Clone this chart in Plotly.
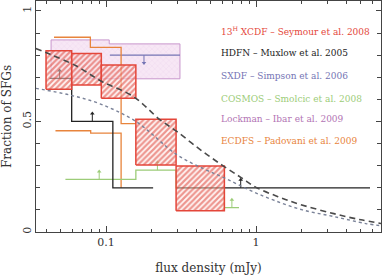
import numpy as np
import plotly.graph_objects as go

# ---------------- data ----------------
# 13H XCDF (Seymour et al. 2008) hatched boxes
xcdf_edges = [0.0398, 0.059, 0.093, 0.158, 0.293, 0.615]
xcdf_hi = [0.82, 0.808, 0.756, 0.51, 0.299]
xcdf_lo = [0.646, 0.665, 0.605, 0.303, 0.096]

# Lockman (Ibar et al. 2009) cross-hatched band
lockman_edges = [0.043, 0.105, 0.311]
lockman_hi = [0.869, 0.851]
lockman_lo = [0.693, 0.693]

# HDFN (Muxlow et al. 2005) step line (hv vertices)
hdfn_x = [0.042, 0.059, 0.111, 0.206]
hdfn_y = [0.695, 0.5, 0.2, 0.2]
hdfn_tail_x = [0.293, 5.75]
hdfn_tail_y = [0.2, 0.2]
hdfn_arrow_x = [0.049, 0.081, 0.79]
hdfn_arrow_y = [0.695, 0.5, 0.2]

# SXDF (Simpson et al. 2006) upper limit
sxdf_x = [0.106, 0.311]
sxdf_y = [0.80, 0.80]
sxdf_arrow_x = [0.179]
sxdf_arrow_y = [0.80]

# COSMOS (Smolcic et al. 2008) lower limits
cosmos_x = [0.0536, 0.158, 0.293, 0.615, 0.77]
cosmos_y = [0.238, 0.28, 0.2, 0.11, 0.11]
cosmos_arrow_x = [0.09, 0.22, 0.69]
cosmos_arrow_y = [0.238, 0.28, 0.11]

# ECDFS (Padovani et al. 2009) upper / lower step lines
ecdfs_up_x = [0.045, 0.0786, 0.126, 0.158]
ecdfs_up_y = [0.881, 0.835, 0.49, 0.49]
ecdfs_lo_x = [0.046, 0.079, 0.126]
ecdfs_lo_y = [0.458, 0.447, 0.2]

# model curves
dash_x = [0.034, 0.0423, 0.063, 0.0936, 0.152, 0.227, 0.296, 0.42, 0.6, 0.8, 1.0, 1.4, 1.96, 3.3, 5.0, 6.9]
dash_y = [0.83, 0.804, 0.752, 0.681, 0.613, 0.51, 0.455, 0.375, 0.30, 0.245, 0.202, 0.16, 0.125, 0.083, 0.055, 0.038]
dot_x = [0.034, 0.057, 0.091, 0.158, 0.296, 0.45, 0.615, 0.9, 1.3, 2.04, 3.3, 5.4, 6.9]
dot_y = [0.65, 0.62, 0.58, 0.50, 0.35, 0.285, 0.245, 0.19, 0.145, 0.10, 0.07, 0.038, 0.028]

legend_labels = ["13<sup>H</sup> XCDF \u2013 Seymour et al. 2008",
                 "HDFN \u2013 Muxlow et al. 2005",
                 "SXDF \u2013 Simpson et al. 2006",
                 "COSMOS \u2013 Smolcic et al. 2008",
                 "Lockman \u2013 Ibar et al. 2009",
                 "ECDFS \u2013 Padovani et al. 2009"]
legend_y = [0.91, 0.81, 0.706, 0.602, 0.511, 0.412]

RED = "#e4463a"
BLACK = "#222222"
SXDF_C = "#7474b4"
GREEN = "#9ccc78"
PURPLE = "#b274b4"
ORANGE = "#e8843c"
legend_colors = [RED, BLACK, SXDF_C, GREEN, PURPLE, ORANGE]

FONT = "DejaVu Serif"

fig = go.Figure()

# Lockman band
lx, ly = [], []
for i in range(len(lockman_hi)):
    lx += [lockman_edges[i], lockman_edges[i + 1]]
    ly += [lockman_hi[i], lockman_hi[i]]
for i in reversed(range(len(lockman_lo))):
    lx += [lockman_edges[i + 1], lockman_edges[i]]
    ly += [lockman_lo[i], lockman_lo[i]]
lx.append(lx[0]); ly.append(ly[0])
fig.add_trace(go.Scatter(x=lx, y=ly, mode="lines", fill="toself",
                         fillpattern=dict(shape="x", fgcolor="rgba(205,160,215,0.8)",
                                          bgcolor="rgba(245,225,242,0.8)", size=4, solidity=0.12),
                         line=dict(color="#c896cc", width=1), hoverinfo="skip"))


def step(x, y, color, width=1.3):
    fig.add_trace(go.Scatter(x=x, y=y, mode="lines", line=dict(color=color, width=width, shape="hv"),
                             hoverinfo="skip"))


def arrows(x, y, color, up=True, length=0.036):
    xs, ys, tx, ty = [], [], [], []
    for xi, yi in zip(x, y):
        yt = yi + length if up else yi - length
        xs += [xi, xi, None]
        ys += [yi, yt, None]
        tx.append(xi); ty.append(yt)
    fig.add_trace(go.Scatter(x=xs, y=ys, mode="lines", line=dict(color=color, width=1),
                             hoverinfo="skip"))
    fig.add_trace(go.Scatter(x=tx, y=ty, mode="markers",
                             marker=dict(symbol="triangle-up" if up else "triangle-down",
                                         size=4, color=color), hoverinfo="skip"))


step(sxdf_x, sxdf_y, SXDF_C)
arrows(sxdf_arrow_x, sxdf_arrow_y, SXDF_C, up=False)
step(ecdfs_up_x, ecdfs_up_y, ORANGE)
step(ecdfs_lo_x, ecdfs_lo_y, ORANGE)
step(cosmos_x, cosmos_y, GREEN)
arrows(cosmos_arrow_x, cosmos_arrow_y, GREEN)
step(hdfn_x, hdfn_y, BLACK)
step(hdfn_tail_x, hdfn_tail_y, BLACK)
arrows(hdfn_arrow_x, hdfn_arrow_y, BLACK)

# XCDF hatched boxes
for i in range(len(xcdf_hi)):
    x0, x1 = xcdf_edges[i], xcdf_edges[i + 1]
    fig.add_trace(go.Scatter(x=[x0, x1, x1, x0, x0],
                             y=[xcdf_lo[i], xcdf_lo[i], xcdf_hi[i], xcdf_hi[i], xcdf_lo[i]],
                             mode="lines", fill="toself",
                             fillpattern=dict(shape="/", fgcolor="#dc3428", bgcolor="rgba(255,240,238,0.5)",
                                              size=4, solidity=0.55),
                             line=dict(color=RED, width=1.5), hoverinfo="skip"))

# model curves
fig.add_trace(go.Scatter(x=dash_x, y=dash_y, mode="lines",
                         line=dict(color="#4a4a4a", width=1.6, dash="6px,4px", shape="spline"),
                         hoverinfo="skip"))
fig.add_trace(go.Scatter(x=dot_x, y=dot_y, mode="lines",
                         line=dict(color="#7a8298", width=1.4, dash="dot", shape="spline"),
                         hoverinfo="skip"))

# legend texts
for lab, col, yy in zip(legend_labels, legend_colors, legend_y):
    fig.add_annotation(x=np.log10(0.57), y=yy, xref="x", yref="y", text=lab, showarrow=False,
                       xanchor="left", yanchor="middle", font=dict(family=FONT, size=9, color=col))

fig.update_layout(
    width=382, height=276, showlegend=False,
    margin=dict(l=36, r=1, t=1, b=44, autoexpand=False),
    paper_bgcolor="white", plot_bgcolor="white",
    font=dict(family=FONT, color="#333"),
)
fig.update_xaxes(type="log", range=[-1.467, 0.833], automargin=False,
                 tickvals=[0.1, 1], ticktext=["0.1", "1"],
                 ticks="inside", ticklen=6, tickcolor="#444",
                 minor=dict(ticks="inside", ticklen=3, tickcolor="#444",
                            tickvals=[0.04, 0.05, 0.06, 0.07, 0.08, 0.09, 0.2, 0.3, 0.4, 0.5,
                                      0.6, 0.7, 0.8, 0.9, 2, 3, 4, 5, 6, 7]),
                 showline=True, linecolor="#444", linewidth=1, mirror="allticks",
                 showgrid=False, zeroline=False,
                 tickfont=dict(family=FONT, size=11, color="#333"),
                 title=dict(text="flux density (mJy)", font=dict(family=FONT, size=12, color="#333"),
                            standoff=15))
fig.update_yaxes(range=[0, 1.045], automargin=False, tickvals=[0, 0.5, 1], ticktext=["0", "0.5", "1"],
                 ticks="inside", ticklen=5, tickcolor="#444", tickangle=-90,
                 minor=dict(ticks="inside", ticklen=4, tickcolor="#444", dtick=0.1),
                 showline=True, linecolor="#444", linewidth=1, mirror="allticks",
                 showgrid=False, zeroline=False,
                 tickfont=dict(family=FONT, size=11, color="#333"),
                 title=dict(text="Fraction of SFGs", font=dict(family=FONT, size=12, color="#333"),
                            standoff=7))

fig.write_html("out.html", config={"displayModeBar": False},
               post_script="document.body.style.margin='0';document.body.style.overflow='hidden';")
